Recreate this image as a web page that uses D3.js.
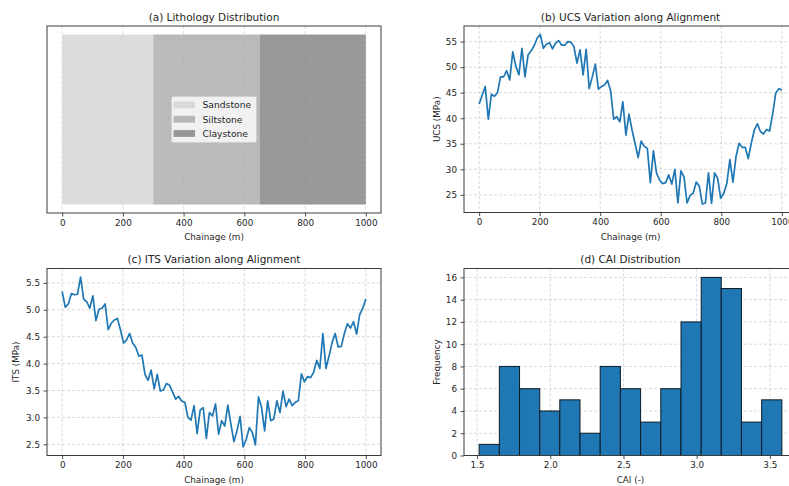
<!DOCTYPE html>
<html>
<head>
<meta charset="utf-8">
<script src="https://cdn.jsdelivr.net/npm/d3@7"></script>
<style>
  body { margin: 0; background: #fff; }
  svg { display: block; font-family: "DejaVu Sans", sans-serif; }
</style>
</head>
<body>
<svg id="fig" width="789" height="486"></svg>
<script>
// ---- data ----
const lithNames  = ["Sandstone", "Siltstone", "Claystone"];
const lithFrom   = [0, 300, 650];
const lithTo     = [300, 650, 1000];
const lithColors = ["#d3d3d3", "#a9a9a9", "#808080"];

const chainageStart = 0;
const chainageEnd = 1000;

const ucsValues = [
  42.8, 44.5, 46.2, 39.8, 44.7, 44.3, 45.0, 48.1, 48.1, 49.3,
  47.5, 53.0, 50.2, 48.5, 53.7, 48.1, 52.4, 53.2, 54.2, 55.7,
  56.4, 53.7, 54.5, 54.8, 53.6, 54.7, 55.2, 54.3, 54.3, 55.0,
  54.9, 54.0, 50.8, 53.4, 48.5, 53.5, 45.8, 48.1, 50.6, 45.7,
  46.2, 46.5, 47.4, 45.4, 39.8, 40.3, 39.3, 43.2, 36.7, 40.8,
  37.7, 35.0, 32.3, 35.5, 34.5, 34.1, 27.4, 33.6, 29.3, 27.9,
  27.2, 27.4, 28.9, 27.1, 30.0, 23.4, 29.7, 28.5, 23.4, 24.9,
  25.3, 27.5, 26.7, 23.2, 23.4, 29.3, 23.3, 29.3, 28.2, 24.3,
  25.3, 27.2, 31.9, 27.5, 32.5, 35.1, 34.3, 34.3, 32.1, 35.1,
  37.7, 38.9, 37.4, 36.9, 37.8, 37.5, 40.9, 44.9, 45.8, 45.5
];

const itsValues = [
  5.34, 5.05, 5.11, 5.30, 5.28, 5.29, 5.61, 5.20, 5.15, 5.03,
  5.26, 4.80, 5.01, 5.03, 5.11, 4.63, 4.75, 4.81, 4.84, 4.63,
  4.38, 4.44, 4.56, 4.38, 4.30, 4.14, 4.16, 3.80, 3.69, 3.88,
  3.53, 3.80, 3.49, 3.51, 3.63, 3.60, 3.47, 3.34, 3.39, 3.30,
  3.28, 3.00, 2.95, 3.22, 2.70, 3.14, 3.18, 2.61, 3.09, 3.03,
  3.25, 2.69, 2.94, 2.84, 3.23, 2.88, 2.55, 2.75, 3.02, 2.45,
  2.59, 2.81, 2.72, 2.49, 3.38, 3.19, 2.75, 3.31, 2.94, 2.97,
  3.31, 3.09, 3.49, 3.20, 3.34, 3.22, 3.28, 3.31, 3.81, 3.66,
  3.76, 3.74, 3.84, 4.06, 3.91, 4.56, 3.91, 4.14, 4.39, 4.56,
  4.31, 4.32, 4.56, 4.74, 4.66, 4.78, 4.55, 4.91, 5.03, 5.20
];

const caiEdges = [1.514, 1.652, 1.790, 1.928, 2.065, 2.203, 2.341, 2.479,
                  2.617, 2.755, 2.893, 3.031, 3.168, 3.306, 3.444, 3.582];
const caiCounts = [1, 8, 6, 4, 5, 2, 8, 6, 3, 6, 12, 16, 15, 3, 5];

const chainageTicks = [0, 200, 400, 600, 800, 1000];
const ucsTicks = [25, 30, 35, 40, 45, 50, 55];
const itsTicks = [2.5, 3.0, 3.5, 4.0, 4.5, 5.0, 5.5];
const caiTicks = [1.5, 2.0, 2.5, 3.0, 3.5];
const freqTicks = [0, 2, 4, 6, 8, 10, 12, 14, 16];

// ---- layout ----
const svg = d3.select("#fig");
svg.append("rect").attr("width", 789).attr("height", 486).attr("fill", "#fff");

const frames = {
  a: { left: 47,  right: 381, top: 26,    bottom: 213 },
  b: { left: 464, right: 797, top: 26,    bottom: 212.5 },
  c: { left: 47,  right: 381, top: 268.5, bottom: 455.5 },
  d: { left: 464, right: 797, top: 268.5, bottom: 455.5 }
};

const TEXT = "#262626";
const SPINE = "#3a3a3a";
const BLUE = "#1f77b4";
const TICK_FS = 8.8, LABEL_FS = 8.8, TITLE_FS = 10.5;

function padded(lo, hi) {
  const m = (hi - lo) * 0.05;
  return [lo - m, hi + m];
}

function drawGrid(g, f, x, y, xTicks, yTicks) {
  const grid = g.append("g")
    .attr("stroke", "#b0b0b0").attr("stroke-opacity", 0.6)
    .attr("stroke-width", 0.8).attr("stroke-dasharray", "3,2");
  if (xTicks) grid.selectAll(null).data(xTicks).join("line")
    .attr("x1", d => x(d)).attr("x2", d => x(d))
    .attr("y1", f.top).attr("y2", f.bottom);
  if (yTicks) grid.selectAll(null).data(yTicks).join("line")
    .attr("x1", f.left).attr("x2", f.right)
    .attr("y1", d => y(d)).attr("y2", d => y(d));
}

function styleAxis(ax) {
  ax.select(".domain").remove();
  ax.selectAll(".tick line").attr("stroke", SPINE).attr("stroke-width", 0.9);
  ax.selectAll(".tick text").attr("fill", TEXT).attr("font-size", TICK_FS)
    .attr("font-family", "DejaVu Sans, sans-serif");
}

function drawFrame(g, f, x, y, o) {
  g.append("rect")
    .attr("x", f.left).attr("y", f.top)
    .attr("width", f.right - f.left).attr("height", f.bottom - f.top)
    .attr("fill", "none").attr("stroke", SPINE).attr("stroke-width", 1);

  const xa = g.append("g").attr("transform", `translate(0,${f.bottom})`)
    .call(d3.axisBottom(x).tickValues(o.xTicks).tickFormat(o.xFormat)
      .tickSize(3.5).tickPadding(3.2).tickSizeOuter(0));
  styleAxis(xa);

  if (o.yTicks) {
    const ya = g.append("g").attr("transform", `translate(${f.left},0)`)
      .call(d3.axisLeft(y).tickValues(o.yTicks).tickFormat(o.yFormat)
        .tickSize(3.5).tickPadding(3.5).tickSizeOuter(0));
    styleAxis(ya);
  }

  const cx = (f.left + Math.min(f.right, 797)) / 2;
  g.append("text").attr("x", cx).attr("y", f.top - 5.5)
    .attr("text-anchor", "middle").attr("font-size", TITLE_FS).attr("fill", TEXT)
    .text(o.title);
  g.append("text").attr("x", cx).attr("y", f.bottom + 27)
    .attr("text-anchor", "middle").attr("font-size", LABEL_FS).attr("fill", TEXT)
    .text(o.xLabel);
  if (o.yLabel) {
    const cy = (f.top + f.bottom) / 2;
    const lx = f.left - o.yLabelOffset;
    g.append("text")
      .attr("transform", `translate(${lx},${cy}) rotate(-90)`)
      .attr("text-anchor", "middle").attr("dominant-baseline", "central")
      .attr("font-size", LABEL_FS).attr("fill", TEXT)
      .text(o.yLabel);
  }
}

const chainage = ucsValues.map((_, i) =>
  chainageStart + i * (chainageEnd - chainageStart) / (ucsValues.length - 1));

// ---- (a) lithology strip ----
{
  const f = frames.a;
  const g = svg.append("g");
  const x = d3.scaleLinear().domain(padded(chainageStart, chainageEnd)).range([f.left, f.right]);
  const y = d3.scaleLinear().domain(padded(0, 1)).range([f.bottom, f.top]);
  drawGrid(g, f, x, y, chainageTicks, null);
  g.selectAll(null).data(lithNames).join("rect")
    .attr("x", (d, i) => x(lithFrom[i]))
    .attr("width", (d, i) => x(lithTo[i]) - x(lithFrom[i]))
    .attr("y", y(1)).attr("height", y(0) - y(1))
    .attr("fill", (d, i) => lithColors[i]).attr("fill-opacity", 0.8);
  drawFrame(g, f, x, y, {
    xTicks: chainageTicks, xFormat: d3.format("d"),
    title: "(a) Lithology Distribution", xLabel: "Chainage (m)"
  });

  // legend, centred in the axes
  const lw = 85, lh = 46, rowH = 14.3;
  const lx = (f.left + f.right) / 2 - lw / 2;
  const ly = (f.top + f.bottom) / 2 - lh / 2;
  const lg = g.append("g").attr("transform", `translate(${lx},${ly})`);
  lg.append("rect").attr("width", lw).attr("height", lh).attr("rx", 2)
    .attr("fill", "#fff").attr("fill-opacity", 0.8)
    .attr("stroke", "#cccccc").attr("stroke-width", 0.8);
  const rows = lg.selectAll(null).data(lithNames).join("g")
    .attr("transform", (d, i) => `translate(0,${8.4 + i * rowH})`);
  rows.append("rect").attr("x", 2).attr("y", -3.4).attr("width", 21.5).attr("height", 6.8)
    .attr("fill", (d, i) => lithColors[i]).attr("fill-opacity", 0.8);
  rows.append("text").attr("x", 31).attr("y", 0).attr("dominant-baseline", "central")
    .attr("font-size", 9.2).attr("fill", TEXT).text(d => d);
}

// ---- (b) UCS line ----
{
  const f = frames.b;
  const g = svg.append("g");
  const x = d3.scaleLinear().domain(padded(chainageStart, chainageEnd)).range([f.left, f.right]);
  const y = d3.scaleLinear().domain(padded(...d3.extent(ucsValues))).range([f.bottom, f.top]);
  drawGrid(g, f, x, y, chainageTicks, ucsTicks);
  g.append("path").datum(ucsValues)
    .attr("fill", "none").attr("stroke", BLUE).attr("stroke-width", 1.7)
    .attr("stroke-linejoin", "round")
    .attr("d", d3.line().x((d, i) => x(chainage[i])).y(d => y(d)));
  drawFrame(g, f, x, y, {
    xTicks: chainageTicks, xFormat: d3.format("d"),
    yTicks: ucsTicks, yFormat: d3.format("d"),
    title: "(b) UCS Variation along Alignment", xLabel: "Chainage (m)",
    yLabel: "UCS (MPa)", yLabelOffset: 27
  });
}

// ---- (c) ITS line ----
{
  const f = frames.c;
  const g = svg.append("g");
  const x = d3.scaleLinear().domain(padded(chainageStart, chainageEnd)).range([f.left, f.right]);
  const y = d3.scaleLinear().domain(padded(...d3.extent(itsValues))).range([f.bottom, f.top]);
  drawGrid(g, f, x, y, chainageTicks, itsTicks);
  g.append("path").datum(itsValues)
    .attr("fill", "none").attr("stroke", BLUE).attr("stroke-width", 1.7)
    .attr("stroke-linejoin", "round")
    .attr("d", d3.line().x((d, i) => x(chainage[i])).y(d => y(d)));
  drawFrame(g, f, x, y, {
    xTicks: chainageTicks, xFormat: d3.format("d"),
    yTicks: itsTicks, yFormat: d3.format(".1f"),
    title: "(c) ITS Variation along Alignment", xLabel: "Chainage (m)",
    yLabel: "ITS (MPa)", yLabelOffset: 31.5
  });
}

// ---- (d) CAI histogram ----
{
  const f = frames.d;
  const g = svg.append("g");
  const x = d3.scaleLinear().domain(padded(caiEdges[0], caiEdges[caiEdges.length - 1])).range([f.left, f.right]);
  const y = d3.scaleLinear().domain([0, d3.max(caiCounts) * 1.05]).range([f.bottom, f.top]);
  drawGrid(g, f, x, y, caiTicks, freqTicks);
  g.selectAll(null).data(caiCounts).join("rect")
    .attr("x", (d, i) => x(caiEdges[i]))
    .attr("width", (d, i) => x(caiEdges[i + 1]) - x(caiEdges[i]))
    .attr("y", d => y(d)).attr("height", d => y(0) - y(d))
    .attr("fill", BLUE).attr("stroke", "#0d1b26").attr("stroke-width", 1);
  drawFrame(g, f, x, y, {
    xTicks: caiTicks, xFormat: d3.format(".1f"),
    yTicks: freqTicks, yFormat: d3.format("d"),
    title: "(d) CAI Distribution", xLabel: "CAI (-)",
    yLabel: "Frequency", yLabelOffset: 27.5
  });
}
</script>
</body>
</html>
